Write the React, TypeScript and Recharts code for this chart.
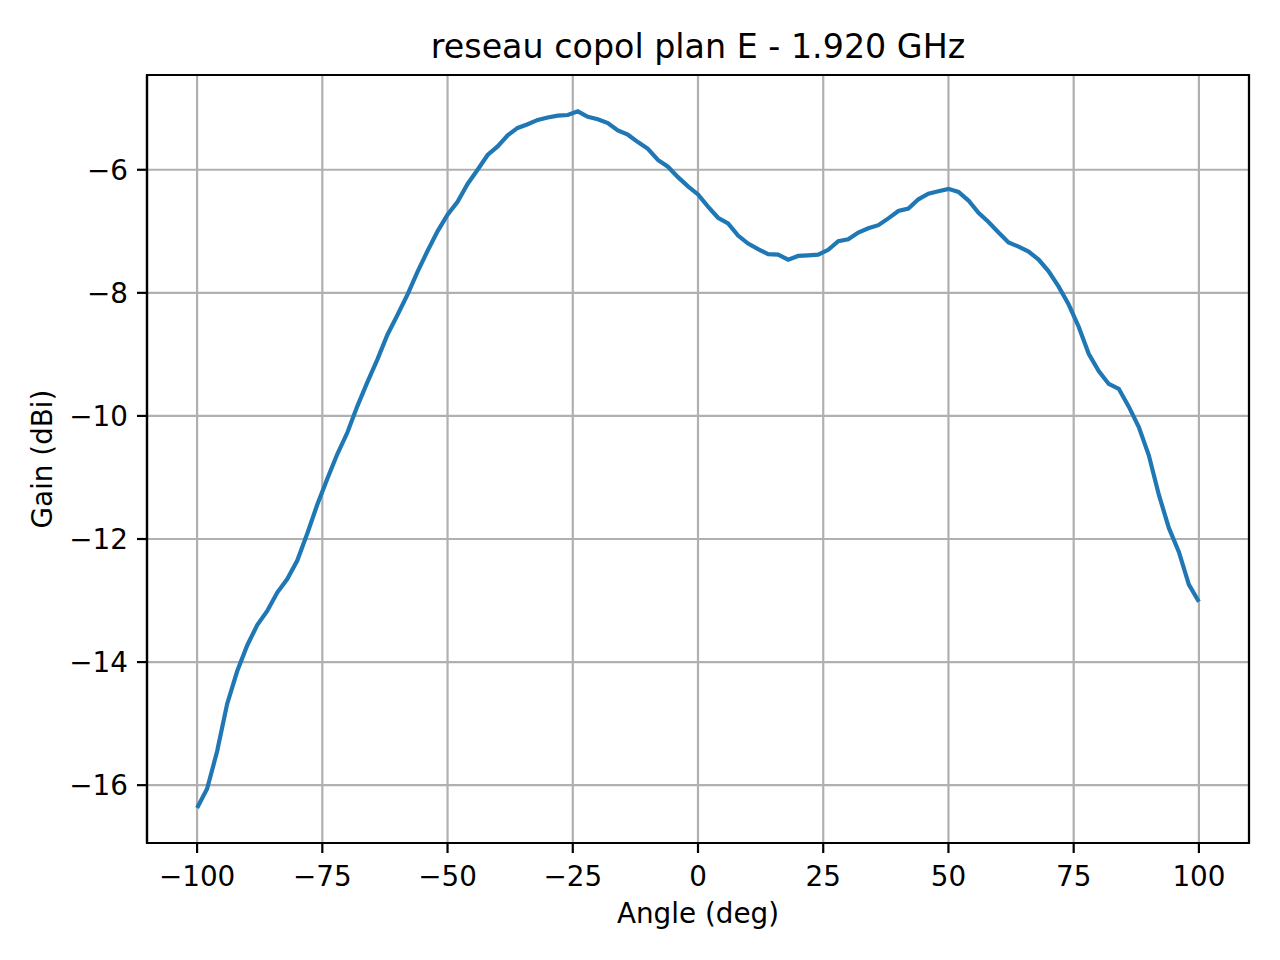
import React from 'react';
import { LineChart, Line, XAxis, YAxis, CartesianGrid, ReferenceArea } from 'recharts';

// angle in degrees, 2 deg step
const angles = [
  -100, -98, -96, -94, -92, -90, -88, -86, -84, -82, -80, -78, -76, -74, -72, -70, -68,
  -66, -64, -62, -60, -58, -56, -54, -52, -50, -48, -46, -44, -42, -40, -38, -36, -34,
  -32, -30, -28, -26, -24, -22, -20, -18, -16, -14, -12, -10, -8, -6, -4, -2, 0, 2, 4,
  6, 8, 10, 12, 14, 16, 18, 20, 22, 24, 26, 28, 30, 32, 34, 36, 38, 40, 42, 44, 46, 48,
  50, 52, 54, 56, 58, 60, 62, 64, 66, 68, 70, 72, 74, 76, 78, 80, 82, 84, 86, 88, 90,
  92, 94, 96, 98, 100,
];

// gain in dBi
const gain = [
  -16.37, -16.06, -15.45, -14.68, -14.15, -13.73, -13.4, -13.17, -12.87, -12.65, -12.35,
  -11.91, -11.44, -11.02, -10.62, -10.27, -9.84, -9.45, -9.08, -8.68, -8.36, -8.03, -7.66,
  -7.32, -7.0, -6.73, -6.52, -6.23, -6.0, -5.76, -5.62, -5.44, -5.32, -5.26, -5.19, -5.15,
  -5.12, -5.11, -5.05, -5.14, -5.18, -5.24, -5.36, -5.43, -5.55, -5.66, -5.84, -5.95,
  -6.12, -6.27, -6.4, -6.6, -6.78, -6.87, -7.07, -7.2, -7.29, -7.37, -7.38, -7.46, -7.4,
  -7.39, -7.38, -7.3, -7.16, -7.13, -7.02, -6.95, -6.9, -6.79, -6.67, -6.63, -6.48, -6.39,
  -6.35, -6.31, -6.36, -6.5, -6.7, -6.85, -7.02, -7.18, -7.25, -7.33, -7.46, -7.65, -7.9,
  -8.19, -8.55, -8.99, -9.27, -9.48, -9.56, -9.85, -10.18, -10.64, -11.28, -11.82, -12.21,
  -12.74, -13.02,
];

const xTicks = [-100, -75, -50, -25, 0, 25, 50, 75, 100];
const yTicks = [-16, -14, -12, -10, -8, -6];

const data = angles.map((a, i) => ({ angle: a, gain: gain[i] }));

const FONT = 'DejaVu Sans, sans-serif';
const fmt = (v: number) => String(v).replace('-', '\u2212');

const XTick = (props: any) => {
  const { x, y, payload } = props;
  return (
    <text x={x} y={y + 24} textAnchor="middle" fontFamily={FONT} fontSize={27.8} fill="#000">
      {fmt(payload.value)}
    </text>
  );
};

const YTick = (props: any) => {
  const { x, y, payload } = props;
  return (
    <text x={x} y={y + 10} textAnchor="end" fontFamily={FONT} fontSize={27.8} fill="#000">
      {fmt(payload.value)}
    </text>
  );
};

export default function App() {
  return (
    <div style={{ position: 'absolute', left: 0, top: 0, width: 1280, height: 960, background: '#fff' }}>
      <LineChart
        width={1280}
        height={960}
        data={data}
        margin={{ top: 75, right: 31, bottom: 57, left: 67 }}
      >
        <CartesianGrid stroke="#b0b0b0" strokeWidth={2.2} />
        <XAxis
          dataKey="angle"
          type="number"
          domain={[-110, 110]}
          ticks={xTicks}
          allowDataOverflow
          height={60}
          tickSize={10}
          tickMargin={9}
          tick={<XTick />}
          tickLine={{ stroke: '#000', strokeWidth: 2.2 }}
          axisLine={{ stroke: '#000', strokeWidth: 2.2 }}
        />
        <YAxis
          type="number"
          domain={[-16.94, -4.46]}
          ticks={yTicks}
          allowDataOverflow
          width={80}
          tickSize={10}
          tickMargin={9}
          tick={<YTick />}
          tickLine={{ stroke: '#000', strokeWidth: 2.2 }}
          axisLine={{ stroke: '#000', strokeWidth: 2.2 }}
        />
        <Line
          type="linear"
          dataKey="gain"
          stroke="#1f77b4"
          strokeWidth={4.2}
          dot={false}
          isAnimationActive={false}
        />
        <ReferenceArea
          x1={-110}
          x2={110}
          y1={-16.94}
          y2={-4.46}
          fill="none"
          fillOpacity={0}
          stroke="#000"
          strokeWidth={2.2}
          ifOverflow="visible"
        />
      </LineChart>
      <svg
        width={1280}
        height={960}
        style={{ position: 'absolute', left: 0, top: 0, pointerEvents: 'none' }}
      >
        <text x={698} y={58} textAnchor="middle" fontFamily={FONT} fontSize={33.3} fill="#000">
          reseau copol plan E - 1.920 GHz
        </text>
        <text x={698} y={923} textAnchor="middle" fontFamily={FONT} fontSize={27.8} fill="#000">
          Angle (deg)
        </text>
        <text
          x={52}
          y={459}
          textAnchor="middle"
          fontFamily={FONT}
          fontSize={27.8}
          fill="#000"
          transform="rotate(-90 52 459)"
        >
          Gain (dBi)
        </text>
      </svg>
    </div>
  );
}
